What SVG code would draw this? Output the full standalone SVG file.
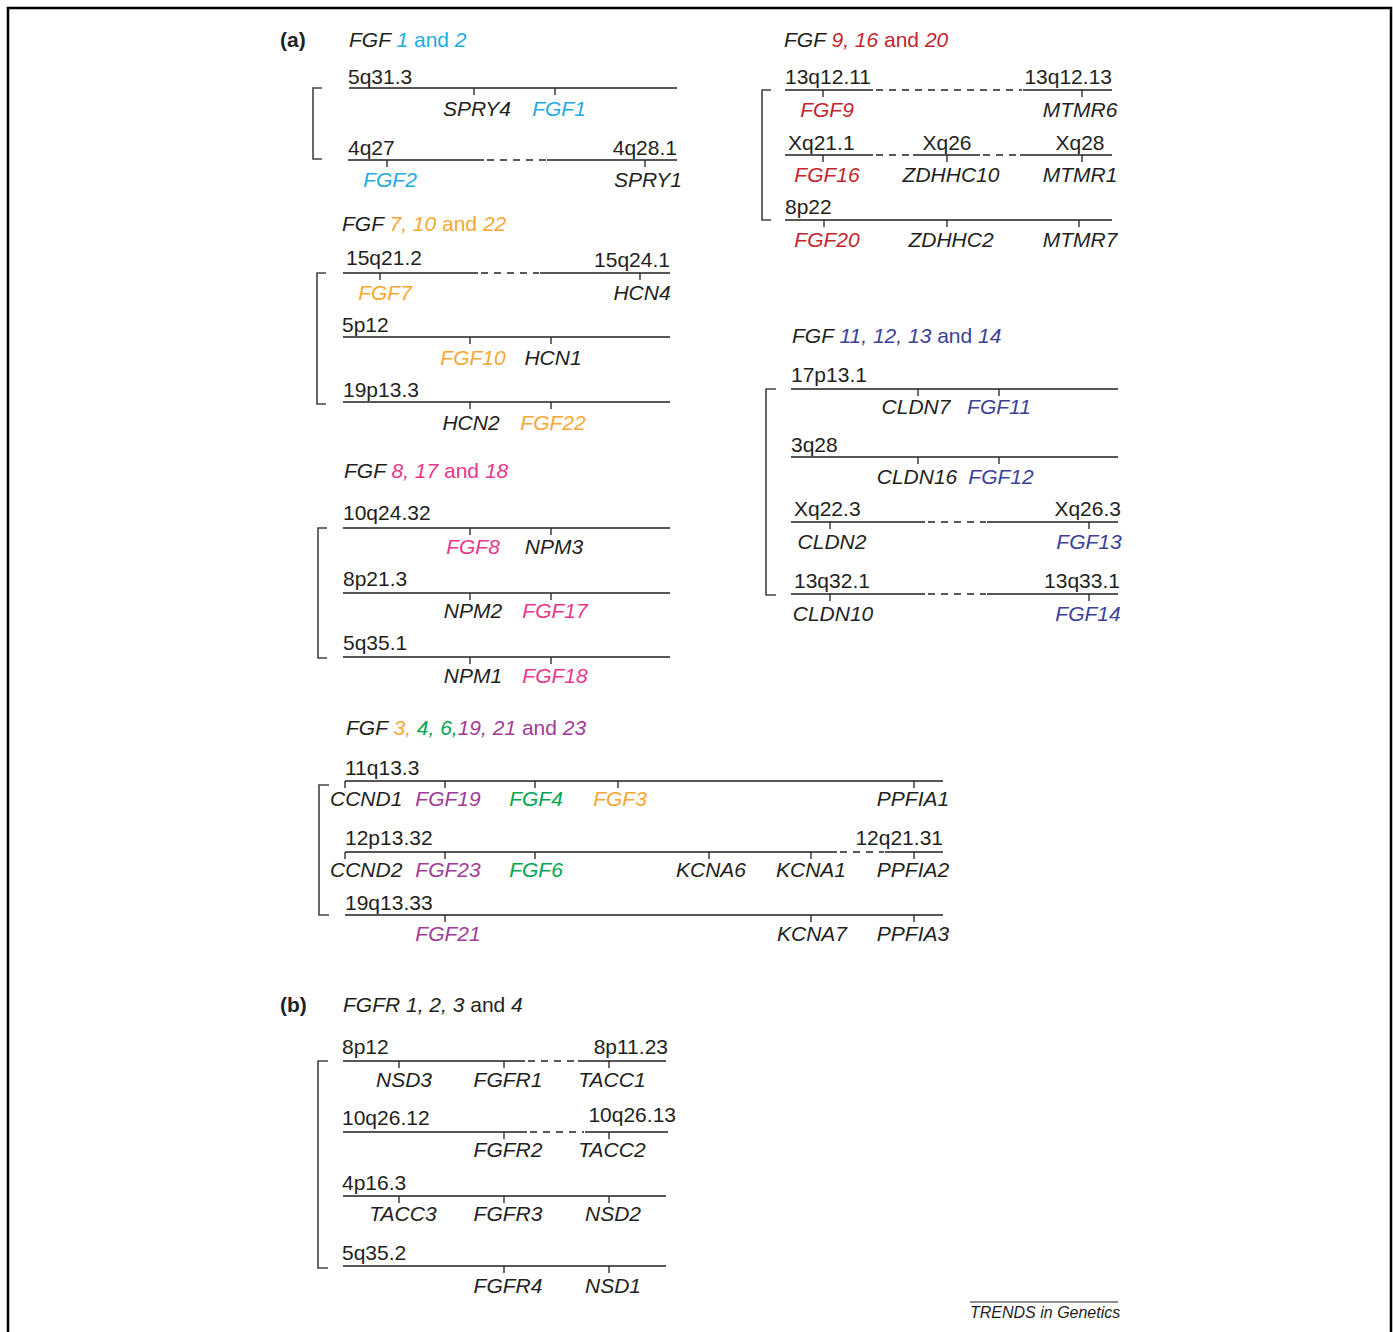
<svg xmlns="http://www.w3.org/2000/svg" width="1393" height="1332" viewBox="0 0 1393 1332">
<style>
text{font-family:"Liberation Sans",Arial,sans-serif;font-size:21px;fill:#231f20}
.i{font-style:italic}
.b{font-weight:bold}
.m{text-anchor:middle}
.e{text-anchor:end}
.cy{fill:#1fabe3}.rd{fill:#c4262e}.or{fill:#f7a833}.mg{fill:#e9378e}.bl{fill:#3d3f9b}.gr{fill:#00a651}.pu{fill:#a43a98}
.ln{stroke:#231f20;stroke-width:1.3;fill:none}
.ds{stroke:#231f20;stroke-width:1.3;fill:none;stroke-dasharray:7 6}
.br{stroke:#444;stroke-width:1.6;fill:none}
</style>
<rect width="1393" height="1332" fill="#fff"/>
<path d="M8,1332 V8 H1391 V1332" fill="none" stroke="#000" stroke-width="2.5"/>

<text x="280" y="47" class="b">(a)</text>
<text x="280" y="1012" class="b">(b)</text>

<g id="fgf1-2">
<text x="349" y="47"><tspan class="i">FGF </tspan><tspan class="i cy">1</tspan><tspan class="cy"> and </tspan><tspan class="i cy">2</tspan></text>
<path class="br" d="M322,88 H313 V159 H322"/>
<path class="ln" d="M349,88 H677 M474,88 v7 M555,88 v7"/>
<text x="348" y="84">5q31.3</text>
<text x="477" y="116" class="i m">SPRY4</text>
<text x="559" y="116" class="i m cy">FGF1</text>
<path class="ln" d="M348,160 H484 M547,160 H677 M387,160 v7 M645,160 v7"/>
<path class="ds" d="M487,160 H546"/>
<text x="348" y="155">4q27</text>
<text x="677" y="155" class="e">4q28.1</text>
<text x="390" y="187" class="i m cy">FGF2</text>
<text x="648" y="187" class="i m">SPRY1</text>
</g>

<g id="fgf9-16-20">
<text x="784" y="47"><tspan class="i">FGF </tspan><tspan class="i rd">9, 16</tspan><tspan class="rd"> and </tspan><tspan class="i rd">20</tspan></text>
<path class="br" d="M771,90 H762 V220 H771"/>
<path class="ln" d="M785,90 H873 M1023,90 H1112 M823,90 v7 M1082,90 v7"/>
<path class="ds" d="M876,90 H1022"/>
<text x="785" y="84">13q12.11</text>
<text x="1112" y="84" class="e">13q12.13</text>
<text x="827" y="117" class="i m rd">FGF9</text>
<text x="1080" y="117" class="i m">MTMR6</text>
<path class="ln" d="M785,155 H873 M913,155 H980 M1020,155 H1112 M823,155 v7 M947,155 v7 M1082,155 v7"/>
<path class="ds" d="M876,155 H912 M983,155 H1019"/>
<text x="788" y="150">Xq21.1</text>
<text x="947" y="150" class="m">Xq26</text>
<text x="1080" y="150" class="m">Xq28</text>
<text x="827" y="182" class="i m rd">FGF16</text>
<text x="951" y="182" class="i m">ZDHHC10</text>
<text x="1080" y="182" class="i m">MTMR1</text>
<path class="ln" d="M785,220 H1112 M824,220 v7 M947,220 v7 M1079,220 v7"/>
<text x="785" y="214">8p22</text>
<text x="827" y="247" class="i m rd">FGF20</text>
<text x="951" y="247" class="i m">ZDHHC2</text>
<text x="1080" y="247" class="i m">MTMR7</text>
</g>

<g id="fgf7-10-22">
<text x="342" y="231"><tspan class="i">FGF </tspan><tspan class="i or">7, 10</tspan><tspan class="or"> and </tspan><tspan class="i or">22</tspan></text>
<path class="br" d="M326,273 H317 V404 H326"/>
<path class="ln" d="M343,273 H478 M540,273 H670 M380,273 v7 M640,273 v7"/>
<path class="ds" d="M481,273 H539"/>
<text x="346" y="265">15q21.2</text>
<text x="670" y="267" class="e">15q24.1</text>
<text x="385" y="300" class="i m or">FGF7</text>
<text x="642" y="300" class="i m">HCN4</text>
<path class="ln" d="M343,337 H670 M470,337 v7 M551,337 v7"/>
<text x="342" y="332">5p12</text>
<text x="473" y="365" class="i m or">FGF10</text>
<text x="553" y="365" class="i m">HCN1</text>
<path class="ln" d="M343,402 H670 M470,402 v7 M551,402 v7"/>
<text x="343" y="397">19p13.3</text>
<text x="471" y="430" class="i m">HCN2</text>
<text x="553" y="430" class="i m or">FGF22</text>
</g>

<g id="fgf8-17-18">
<text x="344" y="478"><tspan class="i">FGF </tspan><tspan class="i mg">8, 17</tspan><tspan class="mg"> and </tspan><tspan class="i mg">18</tspan></text>
<path class="br" d="M327,528 H318 V658 H327"/>
<path class="ln" d="M343,528 H670 M470,528 v7 M551,528 v7"/>
<text x="343" y="520">10q24.32</text>
<text x="473" y="554" class="i m mg">FGF8</text>
<text x="554" y="554" class="i m">NPM3</text>
<path class="ln" d="M343,593 H670 M470,593 v7 M551,593 v7"/>
<text x="343" y="586">8p21.3</text>
<text x="473" y="618" class="i m">NPM2</text>
<text x="555" y="618" class="i m mg">FGF17</text>
<path class="ln" d="M343,657 H670 M470,657 v7 M551,657 v7"/>
<text x="343" y="650">5q35.1</text>
<text x="473" y="683" class="i m">NPM1</text>
<text x="555" y="683" class="i m mg">FGF18</text>
</g>

<g id="fgf11-14">
<text x="792" y="343"><tspan class="i">FGF </tspan><tspan class="i bl">11, 12, 13</tspan><tspan class="bl"> and </tspan><tspan class="i bl">14</tspan></text>
<path class="br" d="M776,389 H766 V595 H776"/>
<path class="ln" d="M791,389 H1118 M918,389 v7 M999,389 v7"/>
<text x="791" y="382">17p13.1</text>
<text x="916" y="414" class="i m">CLDN7</text>
<text x="999" y="414" class="i m bl">FGF11</text>
<path class="ln" d="M791,457 H1118 M918,457 v7 M999,457 v7"/>
<text x="791" y="452">3q28</text>
<text x="917" y="484" class="i m">CLDN16</text>
<text x="1001" y="484" class="i m bl">FGF12</text>
<path class="ln" d="M791,522 H925 M987,522 H1118 M830,522 v7 M1089,522 v7"/>
<path class="ds" d="M928,522 H986"/>
<text x="794" y="516">Xq22.3</text>
<text x="1121" y="516" class="e">Xq26.3</text>
<text x="832" y="549" class="i m">CLDN2</text>
<text x="1089" y="549" class="i m bl">FGF13</text>
<path class="ln" d="M791,594 H925 M987,594 H1118 M830,594 v7 M1089,594 v7"/>
<path class="ds" d="M928,594 H986"/>
<text x="794" y="588">13q32.1</text>
<text x="1120" y="588" class="e">13q33.1</text>
<text x="833" y="621" class="i m">CLDN10</text>
<text x="1088" y="621" class="i m bl">FGF14</text>
</g>

<g id="fgf3-4-6-19-21-23">
<text x="346" y="735"><tspan class="i">FGF </tspan><tspan class="i or">3,</tspan><tspan class="i gr"> 4, 6,</tspan><tspan class="i pu">19, 21</tspan><tspan class="pu"> and </tspan><tspan class="i pu">23</tspan></text>
<path class="br" d="M329,785 H319 V915 H329"/>
<path class="ln" d="M345,781 H943 M345,781 v7 M445,781 v7 M535,781 v7 M618,781 v7 M914,781 v7"/>
<text x="345" y="775">11q13.3</text>
<text x="330" y="806" class="i">CCND1</text>
<text x="448" y="806" class="i m pu">FGF19</text>
<text x="536" y="806" class="i m gr">FGF4</text>
<text x="620" y="806" class="i m or">FGF3</text>
<text x="913" y="806" class="i m">PPFIA1</text>
<path class="ln" d="M345,852 H837 M885,852 H943 M345,852 v7 M445,852 v7 M535,852 v7 M709,852 v7 M811,852 v7 M914,852 v7"/>
<path class="ds" d="M840,852 H884"/>
<text x="345" y="845">12p13.32</text>
<text x="943" y="845" class="e">12q21.31</text>
<text x="330" y="877" class="i">CCND2</text>
<text x="448" y="877" class="i m pu">FGF23</text>
<text x="536" y="877" class="i m gr">FGF6</text>
<text x="711" y="877" class="i m">KCNA6</text>
<text x="811" y="877" class="i m">KCNA1</text>
<text x="913" y="877" class="i m">PPFIA2</text>
<path class="ln" d="M345,915 H943 M445,915 v7 M811,915 v7 M914,915 v7"/>
<text x="345" y="910">19q13.33</text>
<text x="448" y="941" class="i m pu">FGF21</text>
<text x="812" y="941" class="i m">KCNA7</text>
<text x="913" y="941" class="i m">PPFIA3</text>
</g>

<g id="fgfr1-4">
<text x="343" y="1012"><tspan class="i">FGFR 1, 2, 3</tspan><tspan> and </tspan><tspan class="i">4</tspan></text>
<path class="br" d="M328,1061 H318 V1268 H328"/>
<path class="ln" d="M343,1061 H525 M578,1061 H666 M399,1061 v7 M504,1061 v7 M609,1061 v7"/>
<path class="ds" d="M528,1061 H577"/>
<text x="342" y="1054">8p12</text>
<text x="668" y="1054" class="e">8p11.23</text>
<text x="404" y="1087" class="i m">NSD3</text>
<text x="508" y="1087" class="i m">FGFR1</text>
<text x="612" y="1087" class="i m">TACC1</text>
<path class="ln" d="M343,1132 H527 M585,1132 H668 M504,1132 v7 M609,1132 v7"/>
<path class="ds" d="M530,1132 H584"/>
<text x="342" y="1125">10q26.12</text>
<text x="676" y="1122" class="e">10q26.13</text>
<text x="508" y="1157" class="i m">FGFR2</text>
<text x="612" y="1157" class="i m">TACC2</text>
<path class="ln" d="M343,1196 H666 M399,1196 v7 M504,1196 v7 M609,1196 v7"/>
<text x="342" y="1190">4p16.3</text>
<text x="403" y="1221" class="i m">TACC3</text>
<text x="508" y="1221" class="i m">FGFR3</text>
<text x="613" y="1221" class="i m">NSD2</text>
<path class="ln" d="M343,1266 H666 M504,1266 v7 M609,1266 v7"/>
<text x="342" y="1260">5q35.2</text>
<text x="508" y="1293" class="i m">FGFR4</text>
<text x="613" y="1293" class="i m">NSD1</text>
</g>

<g id="footer">
<path d="M970,1302 H1118" stroke="#231f20" stroke-width="1"/>
<text x="970" y="1318" class="i" style="font-size:16px">TRENDS in Genetics</text>
</g>
</svg>
